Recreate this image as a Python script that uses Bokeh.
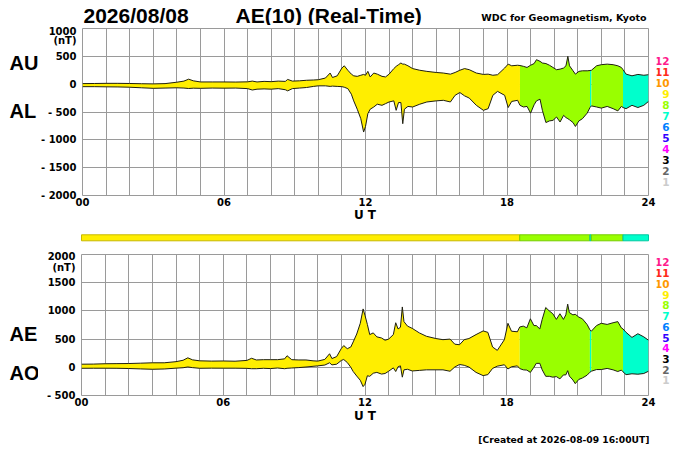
import numpy as np
from bokeh.plotting import figure
from bokeh.models import Range1d, FixedTicker, Label
from bokeh.layouts import column, row
from bokeh.embed import file_html
from bokeh.resources import INLINE

# ---------------- data ----------------
hours = [0, 0.5, 1.0, 1.5, 2.0, 2.5, 3.0, 3.5, 4.0, 4.3,
         4.5, 4.7, 5.0, 5.5, 6.0, 6.5, 7.0, 7.2, 7.4, 7.7,
         8.0, 8.3, 8.6, 8.7, 8.9, 9.2, 9.5, 9.8, 10.0, 10.3,
         10.5, 10.6, 10.8, 11.0, 11.1, 11.25, 11.4, 11.5, 11.65, 11.8,
         11.92, 12.0, 12.1, 12.2, 12.35, 12.5, 12.7, 12.85, 13.0, 13.2,
         13.3, 13.4, 13.5, 13.58, 13.65, 13.8, 14.0, 14.3, 14.6, 15.0,
         15.3, 15.6, 15.8, 16.0, 16.2, 16.4, 16.7, 17.0, 17.2, 17.4,
         17.6, 17.9, 18.05, 18.2, 18.45, 18.55, 18.7, 18.85, 19.0, 19.15,
         19.25, 19.4, 19.5, 19.65, 19.8, 19.95, 20.1, 20.25, 20.4, 20.5,
         20.58, 20.65, 20.8, 20.9, 21.05, 21.2, 21.4, 21.52, 21.58, 21.8,
         22.0, 22.25, 22.5, 22.7, 22.85, 22.92, 23.05, 23.3, 23.55, 23.8,
         24.0]

au = [10, 12, 15, 15, 12, 8, 5, 10, 35, 55,
      90, 60, 40, 40, 40, 38, 42, 55, 40, 50,
      45, 55, 50, 85, 55, 60, 70, 75, 80, 110,
      200, 120, 150, 290, 330, 250, 180, 150, 140, 160,
      175, 160, 230, 130, 200, 180, 140, 130, 180, 280,
      320, 350, 380, 360, 360, 330, 280, 250, 230, 210,
      200, 180, 210, 250, 280, 260, 200, 175, 180, 160,
      170, 290, 360, 330, 340, 335, 320, 300, 340, 370,
      440, 410, 380, 370, 340, 300, 260, 270, 290, 330,
      500, 330, 240, 180, 230, 240, 240, 245, 250, 330,
      350, 360, 350, 330, 300, 260, 180, 150, 175, 160,
      170]

al = [-45, -45, -48, -50, -55, -65, -75, -70, -65, -70,
      -78, -72, -75, -70, -72, -70, -80, -105, -90, -85,
      -90, -80, -100, -120, -80, -70, -60, -40, -30, -30,
      -40, -35, -40, -45, -55, -80, -180, -300, -450, -620,
      -860, -760, -530, -450, -410, -360, -380, -350, -320, -300,
      -470, -330, -330, -710, -450, -400, -410, -360, -320, -300,
      -290, -320, -200, -150, -210, -250, -380, -470, -440, -200,
      -130, -200, -420, -310, -290, -380, -410, -400, -520, -370,
      -300, -270, -470, -690, -660, -650, -590, -680, -560, -600,
      -620, -640, -690, -760, -660, -620, -520, -420, -390, -410,
      -430, -400, -440, -480, -400, -420, -440, -380, -420, -380,
      -310]

# AE and AO indices by definition from AU / AL
ae = (np.array(au) - np.array(al)).tolist()
ao = ((np.array(au) + np.array(al)) / 2.0).tolist()

# number of contributing stations per time segment
seg_start = [0.0, 18.55, 21.52, 21.58, 22.92]
seg_end = [18.55, 21.52, 21.58, 22.92, 24.0]
seg_stations = [9, 8, 7, 8, 7]

station_numbers = [12, 11, 10, 9, 8, 7, 6, 5, 4, 3, 2, 1]
station_colors = ["#ff1a8c", "#ff2a1a", "#ff9900", "#ffee00", "#99ff00", "#00ffcc",
                  "#0080ff", "#3300ff", "#ff00ff", "#000000", "#666666", "#cccccc"]
station_edge = {9: "#c8b800", 8: "#77cc00", 7: "#00c8a0"}

x_tick_hours = [0, 6, 12, 18, 24]
x_tick_labels = ["00", "06", "12", "18", "24"]
top_y_ticks = [1000, 500, 0, -500, -1000, -1500, -2000]
bot_y_ticks = [2000, 1500, 1000, 500, 0, -500]

date_text = "2026/08/08"
title_text = "AE(10) (Real-Time)"
source_text = "WDC for Geomagnetism, Kyoto"
created_text = "[Created at 2026-08-09 16:00UT]"
unit_text = "(nT)"
ut_text = "U T"

color_of = dict(zip(station_numbers, station_colors))

# ---------------- layout geometry (page pixels) ----------------
W = 700
FL, FR = 81, 648          # plot frame left / right
LEFT_W = 38               # left strip width
RIGHT_W = 44              # legend strip width
MAIN_W = W - LEFT_W - RIGHT_W
BIG = "Liberation Sans"
SMALL = "DejaVu Sans"
PX_PER_H = (FR - FL) / 24.0


def strip(width, height):
    p = figure(width=width, height=height, x_range=Range1d(0, width), y_range=Range1d(height, 0),
               output_backend="svg", toolbar_location=None, title=None,
               x_axis_location=None, y_axis_location=None, min_border=0)
    p.grid.visible = False
    p.outline_line_color = None
    return p


def put(p, x, y, text, font, size, style="bold", color="black", align="left", baseline="middle"):
    p.add_layout(Label(x=x, y=y, text=text, text_font=font, text_font_style=style,
                       text_font_size=size, text_color=color, text_align=align,
                       text_baseline=baseline))


def main_panel(height, btop, bbot, ylo, yhi, yticks, unit_val):
    p = figure(width=MAIN_W, height=height, x_range=Range1d(0, 24), y_range=Range1d(ylo, yhi),
               output_backend="svg", toolbar_location=None, title=None,
               min_border_left=FL - LEFT_W, min_border_right=(LEFT_W + MAIN_W) - FR,
               min_border_top=btop, min_border_bottom=bbot)
    hour_ticks = list(range(25))
    p.xaxis.ticker = FixedTicker(ticks=hour_ticks)
    ov = {h: "" for h in hour_ticks}
    for h, lab in zip(x_tick_hours, x_tick_labels):
        ov[h] = lab
    p.xaxis.major_label_overrides = ov
    p.xgrid.ticker = FixedTicker(ticks=hour_ticks)
    p.yaxis.ticker = FixedTicker(ticks=yticks + [unit_val])
    yov = {v: ("- %d" % (-v) if v < 0 else "%d" % v) for v in yticks}
    yov[unit_val] = unit_text
    p.yaxis.major_label_overrides = yov
    p.ygrid.ticker = FixedTicker(ticks=yticks)
    for ax in (p.xaxis, p.yaxis):
        ax.axis_line_color = None
        ax.major_tick_line_color = None
        ax.minor_tick_line_color = None
        ax.major_tick_out = 0
        ax.major_tick_in = 0
        ax.major_label_text_font = SMALL
        ax.major_label_text_font_style = "bold"
        ax.major_label_text_font_size = "10px"
        ax.major_label_text_color = "black"
    p.xaxis.major_label_standoff = 2
    p.yaxis.major_label_standoff = 6
    p.grid.grid_line_color = "#9a9a9a"
    p.grid.grid_line_width = 1
    p.outline_line_color = "#9a9a9a"
    return p


def draw_band(p, lower, upper):
    t = np.array(hours, dtype=float)
    lo = np.array(lower, dtype=float)
    up = np.array(upper, dtype=float)
    for s, e, n in zip(seg_start, seg_end, seg_stations):
        m = (t >= s - 1e-9) & (t <= e + 1e-9)
        p.varea(x=t[m], y1=lo[m], y2=up[m], fill_color=color_of[n])
    p.line(hours, upper, line_color="#1e1e10", line_width=1)
    p.line(hours, lower, line_color="#1e1e10", line_width=1)


# ---------------- header ----------------
HEAD_H = 25
header = strip(W, HEAD_H)
put(header, 83, 14.5, date_text, BIG, "21px")
put(header, 235, 14.5, title_text, BIG, "21px")
put(header, 646, 17.2, source_text, SMALL, "9.5px", align="right")

# ---------------- top row: AU / AL ----------------
TOP_Y0, TOP_T, TOP_B, TOP_Y1 = 25, 28, 197, 208
top_h = TOP_Y1 - TOP_Y0
top_unit = 1000 - (40 - TOP_T) / (TOP_B - TOP_T) * 3000.0
top = main_panel(top_h, TOP_T - TOP_Y0, TOP_Y1 - TOP_B, -2000, 1000, top_y_ticks, top_unit)
draw_band(top, al, au)

left_top = strip(LEFT_W, top_h)
put(left_top, 9, 63 - TOP_Y0, "AU", BIG, "20px")
put(left_top, 9, 115 - TOP_Y0, "AL", BIG, "20px")

leg_top = strip(RIGHT_W, top_h)
for i, (n, c) in enumerate(zip(station_numbers, station_colors)):
    put(leg_top, 669 - (W - RIGHT_W), 61 + i * 12.05 - TOP_Y0, str(n), SMALL, "10.5px",
        color=c, align="right")

# ---------------- middle strip: U T + station bar ----------------
MID_Y0, MID_Y1 = TOP_Y1, 250
mid = strip(W, MID_Y1 - MID_Y0)
put(mid, 364.5, 214 - MID_Y0, ut_text, SMALL, "12px", align="center")
mid.extra_x_ranges = {"hours": Range1d(-FL / PX_PER_H, (W - FL) / PX_PER_H)}
mid.quad(left=seg_start, right=seg_end, bottom=240.3 - MID_Y0, top=234.3 - MID_Y0,
         x_range_name="hours",
         fill_color=[color_of[n] for n in seg_stations],
         line_color=[station_edge[n] for n in seg_stations], line_width=1)

# ---------------- bottom row: AE / AO ----------------
BOT_Y0, BOT_T, BOT_B, BOT_Y1 = MID_Y1, 254, 395, 409
bot_h = BOT_Y1 - BOT_Y0
bot_unit = 2000 - (266.5 - BOT_T) / (BOT_B - BOT_T) * 2500.0
bot = main_panel(bot_h, BOT_T - BOT_Y0, BOT_Y1 - BOT_B, -500, 2000, bot_y_ticks, bot_unit)
draw_band(bot, ao, ae)

left_bot = strip(LEFT_W, bot_h)
put(left_bot, 9, 340 - BOT_Y0, "AE", BIG, "20px")
put(left_bot, 9, 384 - BOT_Y0, "AO", BIG, "20px")

leg_bot = strip(RIGHT_W, bot_h)
for i, (n, c) in enumerate(zip(station_numbers, station_colors)):
    put(leg_bot, 669 - (W - RIGHT_W), 259 + i * 12.09 - BOT_Y0, str(n), SMALL, "10.5px",
        color=c, align="right")

# ---------------- footer ----------------
FOOT_Y0, FOOT_Y1 = BOT_Y1, 448
footer = strip(W, FOOT_Y1 - FOOT_Y0)
put(footer, 364.5, 415.7 - FOOT_Y0, ut_text, SMALL, "12px", align="center")
put(footer, 649, 439 - FOOT_Y0, created_text, SMALL, "9.2px", align="right")

layout = column(header,
                row(left_top, top, leg_top),
                mid,
                row(left_bot, bot, leg_bot),
                footer)
open("out.html", "w").write(file_html(layout, INLINE))
